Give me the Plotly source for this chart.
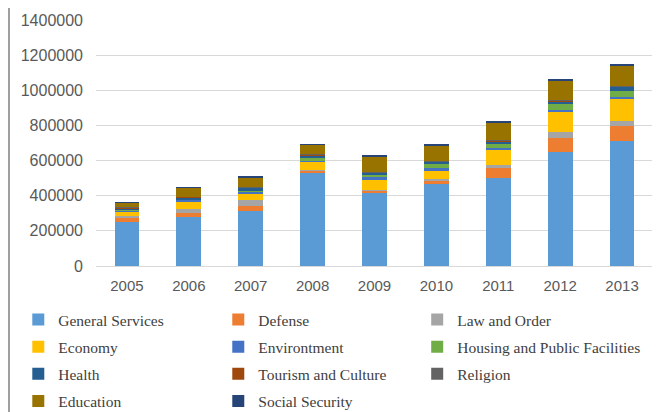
import plotly.graph_objects as go

years = ["2005", "2006", "2007", "2008", "2009", "2010", "2011", "2012", "2013"]

general_services = [250000, 277000, 311000, 530000, 416000, 471000, 503000, 650000, 714000]
defense = [25000, 25000, 32000, 13000, 13000, 11000, 53000, 78000, 80000]
law_and_order = [12000, 23000, 30000, 6000, 6000, 13000, 21000, 34000, 34000]
economy = [25000, 44000, 42000, 44000, 57000, 51000, 84000, 116000, 124000]
environment = [5000, 8000, 9000, 4000, 13000, 11000, 9000, 11000, 11000]
housing = [5000, 4000, 5000, 17000, 17000, 23000, 23000, 32000, 34000]
health = [8000, 10000, 17000, 17000, 10000, 15000, 17000, 15000, 23000]
tourism = [2000, 2000, 2000, 2000, 2000, 2000, 3000, 4000, 3000]
religion = [2000, 2000, 2000, 2000, 2000, 2000, 2000, 3000, 2000]
education = [28000, 51000, 55000, 57000, 89000, 89000, 103000, 110000, 116000]
social_security = [2000, 2000, 2000, 2000, 2000, 2000, 2000, 11000, 5000]

series = [
    ("General Services", general_services, "#5B9BD5", "legend"),
    ("Defense", defense, "#ED7D31", "legend2"),
    ("Law and Order", law_and_order, "#A5A5A5", "legend3"),
    ("Economy", economy, "#FFC000", "legend"),
    ("Environtment", environment, "#4472C4", "legend2"),
    ("Housing and Public Facilities", housing, "#70AD47", "legend3"),
    ("Health", health, "#255E91", "legend"),
    ("Tourism and Culture", tourism, "#9E480E", "legend2"),
    ("Religion", religion, "#636363", "legend3"),
    ("Education", education, "#997300", "legend"),
    ("Social Security", social_security, "#264478", "legend2"),
]

fig = go.Figure()
for i, (name, vals, color, lg) in enumerate(series):
    fig.add_trace(go.Bar(
        x=years, y=vals, name=name, legend=lg, legendgroup=name,
        marker=dict(color=color, line=dict(width=0)),
    ))

legend_font = dict(family="Liberation Serif", size=15.5, color="#404040")
common = dict(
    xref="container", yref="container", yanchor="top", xanchor="left",
    orientation="v", traceorder="grouped", tracegroupgap=4,
    font=legend_font, bgcolor="rgba(0,0,0,0)", itemwidth=30,
)

# page body has an 8px margin, so layout is offset by 8px to match the view
ML, MT = 88, 12
PW = 645 - ML
PH = 258 - MT

frame = dict(color="#7F7F7F", width=1.5)
fig.update_layout(
    width=660, height=412,
    margin=dict(l=ML, r=660 - 645, t=MT, b=412 - 258, autoexpand=False),
    barmode="stack", bargap=0.6,
    plot_bgcolor="white", paper_bgcolor="white",
    showlegend=True,
    legend=dict(x=0.0156, y=0.284, **common),
    legend2=dict(x=0.3186, y=0.284, **common),
    legend3=dict(x=0.620, y=0.284, **common),
    xaxis=dict(
        showgrid=False, showline=True, linecolor="#D9D9D9", linewidth=1,
        ticks="", ticklabelstandoff=6,
        tickfont=dict(family="Liberation Sans", size=15, color="#595959"),
    ),
    yaxis=dict(
        range=[0, 1400000], dtick=200000, showgrid=True, gridcolor="#D9D9D9",
        gridwidth=1, zeroline=False, showline=False, ticks="",
        tickformat="d", ticklabelstandoff=12,
        tickfont=dict(family="Liberation Sans", size=16, color="#595959"),
    ),
    shapes=[
        dict(type="line", xref="paper", yref="paper",
             x0=(1 - ML) / PW, x1=(1 - ML) / PW,
             y0=-(412 - 258) / PH, y1=258 / PH, line=frame, layer="above"),
        dict(type="line", xref="paper", yref="paper",
             x0=(646.5 - ML) / PW, x1=(646.5 - ML) / PW,
             y0=-(412 - 258) / PH, y1=258 / PH, line=frame, layer="above"),
    ],
)

fig.write_html("out.html")
